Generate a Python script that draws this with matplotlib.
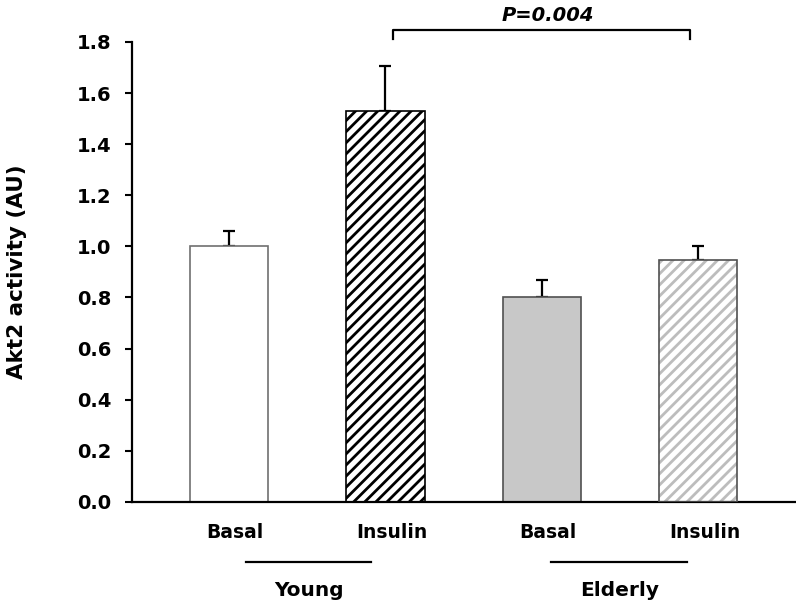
import matplotlib.pyplot as plt
import matplotlib.transforms as mtransforms

plt.rcParams['font.family'] = ['DejaVu Sans']
plt.rcParams['font.weight'] = 'bold'
plt.rcParams['hatch.linewidth'] = 2.0

conditions = ['Basal', 'Insulin', 'Basal', 'Insulin']
groups = ['Young', 'Elderly']
values = [1.00, 1.53, 0.80, 0.947]
errors = [0.06, 0.175, 0.07, 0.055]
p_text = 'P=0.004'

faces = ['white', 'white', '#c8c8c8', 'white']
hatches = [None, '///', None, '///']
hatch_colors = [None, 'black', None, '#bdbdbd']
edges = ['#707070', 'black', '#505050', '#505050']

fig = plt.figure(figsize=(7.96, 6.07), dpi=100)
ax = fig.add_axes([0.166, 0.173, 0.833, 0.758])

x = list(range(len(values)))
for i in x:
    if hatches[i]:
        # hatch drawn in its own colour, outline drawn on top
        ax.bar(i, values[i], width=0.5, color=faces[i], edgecolor=hatch_colors[i],
               hatch=hatches[i], linewidth=0, zorder=2)
        ax.bar(i, values[i], width=0.5, fill=False, edgecolor=edges[i],
               linewidth=1.2, zorder=3)
    else:
        ax.bar(i, values[i], width=0.5, color=faces[i], edgecolor=edges[i],
               linewidth=1.2, zorder=2)

ax.errorbar(x, values, yerr=[[0] * len(errors), errors], fmt='none', ecolor='black',
            elinewidth=1.6, capsize=4, capthick=1.6, zorder=1)

ax.set_xlim(-0.62, 3.62)
ax.set_ylim(0, 1.8)
ax.set_yticks([0.0, 0.2, 0.4, 0.6, 0.8, 1.0, 1.2, 1.4, 1.6, 1.8])
ax.set_yticklabels(['%.1f' % v for v in ax.get_yticks()], fontsize=14, fontweight='bold')
ax.set_xticks([i + 0.04 for i in x])
ax.set_xticklabels(conditions, fontsize=13.5, fontweight='bold')
ax.tick_params(axis='x', length=0, pad=15)
ax.tick_params(axis='y', direction='out', length=5, width=1.5, pad=10)
ax.set_ylabel('Akt2 activity (AU)', fontsize=15.5, fontweight='bold')
ax.yaxis.set_label_coords(-0.158, 0.5)

for s in ['top', 'right']:
    ax.spines[s].set_visible(False)
for s in ['left', 'bottom']:
    ax.spines[s].set_linewidth(1.6)

# group underlines and labels below the axis
trans = mtransforms.blended_transform_factory(ax.transData, fig.transFigure)
group_spans = [(0.11, 0.91), (2.06, 2.93)]
for (a, b), g in zip(group_spans, groups):
    ax.plot([a, b], [1 - 562 / 607, 1 - 562 / 607], color='black', lw=1.6,
            transform=trans, clip_on=False)
    ax.text((a + b) / 2, 1 - 590 / 607, g, transform=trans, ha='center', va='center',
            fontsize=14.5, fontweight='bold')

# significance bracket
bx0, bx1 = 1.05, 2.95
by, bdrop = 1.847, 0.035
ax.plot([bx0, bx0, bx1, bx1], [by - bdrop, by, by, by - bdrop], color='black',
        lw=1.6, clip_on=False)
ax.text(2.04, 1.905, p_text, ha='center', va='center', fontsize=14,
        fontweight='bold', fontstyle='italic')

fig.savefig('out.png', dpi=100)
